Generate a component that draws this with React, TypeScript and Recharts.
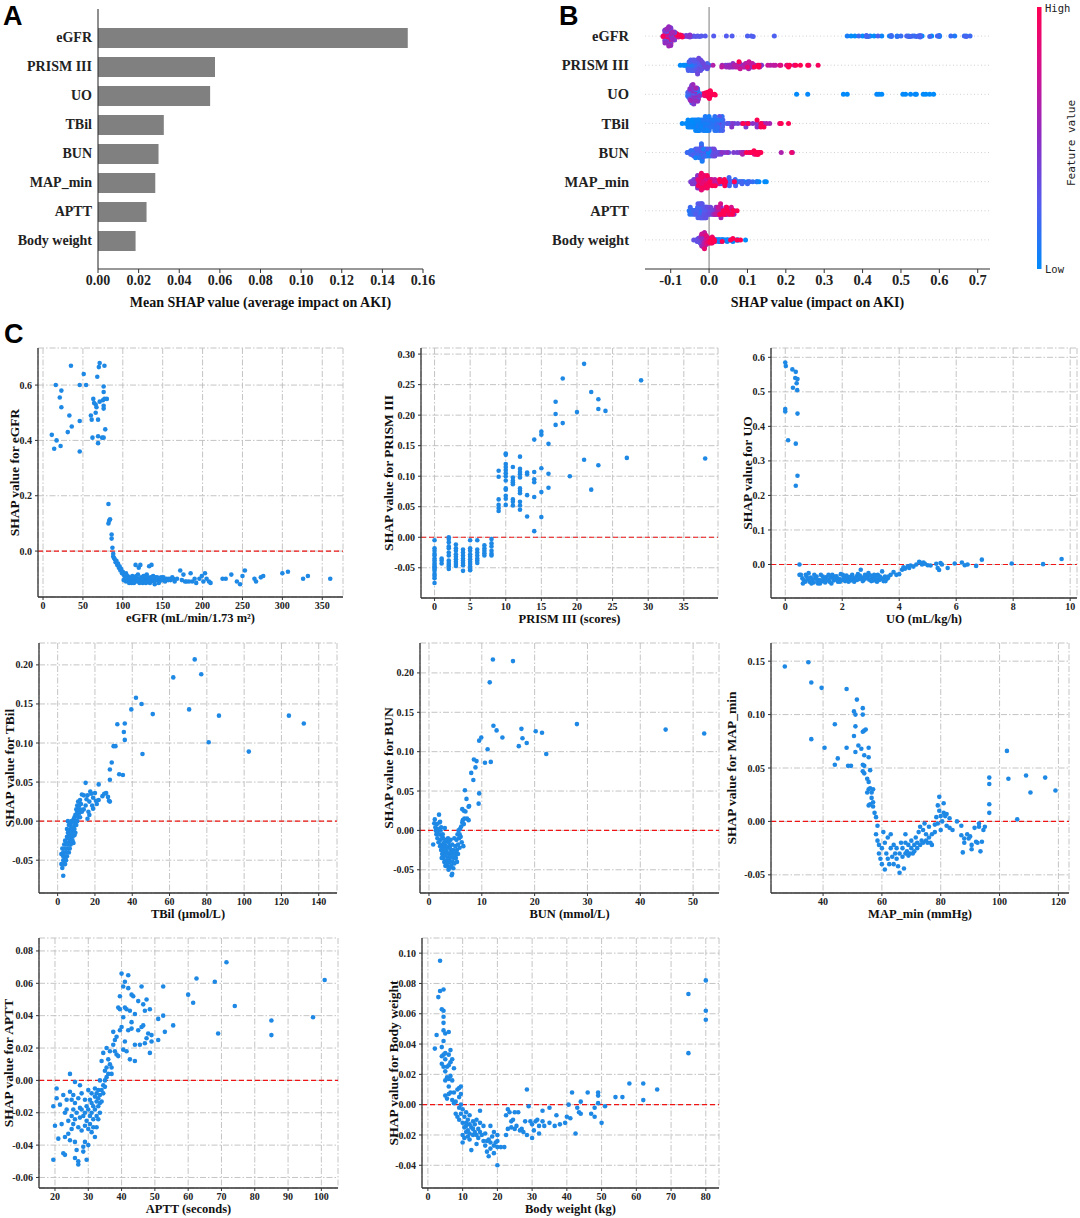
import React from "react";
import {
  BarChart,
  Bar,
  XAxis,
  YAxis,
  ScatterChart,
  Scatter,
  CartesianGrid,
  ReferenceLine,
} from "recharts";

// ---- data ----
const featureNames = ["eGFR", "PRISM III", "UO", "TBil", "BUN", "MAP_min", "APTT", "Body weight"];
const meanShap = [0.1525, 0.0576, 0.0552, 0.0324, 0.0298, 0.0282, 0.0239, 0.0185];
const barTicks = [0, 0.02, 0.04, 0.06, 0.08, 0.1, 0.12, 0.14, 0.16];
const beeTicks = [-0.1, 0, 0.1, 0.2, 0.3, 0.4, 0.5, 0.6, 0.7];

type Pt = [number, number]; // [feature value, SHAP value]

const egfrPoints: Pt[] = [
  [11, 0.42], [14, 0.37], [16, 0.6], [17, 0.4], [21, 0.555], [23, 0.58], [23, 0.52], [22, 0.38],
  [31, 0.43], [33, 0.49], [35, 0.67], [36, 0.45], [46, 0.6], [46, 0.47], [46, 0.36], [51, 0.64],
  [54, 0.6], [60, 0.49], [61, 0.475], [62, 0.41], [63, 0.55], [64, 0.535], [66, 0.53], [66, 0.5],
  [67, 0.52], [68, 0.63], [69, 0.475], [69, 0.415], [69, 0.39], [70, 0.665], [71, 0.68], [71, 0.54],
  [74, 0.41], [75, 0.545], [76, 0.41], [76, 0.575], [76, 0.595], [76, 0.525], [76, 0.515], [77, 0.67],
  [77, 0.55], [78, 0.44], [80, 0.55],
  [82, 0.17], [82, 0.1], [83, 0.11], [84, 0.115], [86, 0.06], [86, 0.045], [87, 0.012], [88, -0.01],
  [88, -0.02], [89, -0.025], [90, -0.03], [91, -0.04], [92, -0.035], [93, -0.05], [94, -0.045],
  [95, -0.06], [96, -0.055], [97, -0.07], [98, -0.065], [99, -0.08], [100, -0.075], [101, -0.085],
  [102, -0.09], [104, -0.08], [105, -0.095],
  [103, -0.1], [106, -0.09], [107, -0.105], [108, -0.095], [110, -0.11], [111, -0.1], [112, -0.09],
  [113, -0.105], [114, -0.115], [115, -0.095], [116, -0.05], [117, -0.1], [118, -0.11], [119, -0.085],
  [120, -0.06], [121, -0.1], [122, -0.05], [123, -0.095], [124, -0.105], [125, -0.115], [126, -0.09],
  [127, -0.1], [128, -0.11], [129, -0.095], [130, -0.085], [131, -0.105], [132, -0.1], [133, -0.055],
  [134, -0.115], [135, -0.095], [136, -0.05], [137, -0.105], [138, -0.09], [139, -0.1], [140, -0.12],
  [141, -0.095], [142, -0.105], [144, -0.1], [146, -0.11], [148, -0.095], [150, -0.1], [152, -0.105],
  [155, -0.1], [158, -0.1], [160, -0.105], [163, -0.1], [165, -0.11], [168, -0.1], [172, -0.07],
  [174, -0.105], [176, -0.085], [178, -0.11], [180, -0.11], [183, -0.11], [185, -0.08], [187, -0.11],
  [190, -0.1], [192, -0.115], [196, -0.1], [199, -0.09], [201, -0.11], [203, -0.08], [205, -0.1],
  [208, -0.11], [210, -0.115], [225, -0.1], [229, -0.1], [236, -0.085], [243, -0.11], [247, -0.12],
  [250, -0.09], [253, -0.07], [265, -0.1], [267, -0.11], [273, -0.095], [276, -0.09], [300, -0.08],
  [307, -0.075], [326, -0.1], [332, -0.09], [360, -0.1],
  [101, -0.105], [103, -0.09], [104, -0.11], [106, -0.1], [108, -0.115], [109, -0.1], [111, -0.115],
  [113, -0.095], [115, -0.11], [117, -0.09], [119, -0.105], [121, -0.115], [123, -0.11], [125, -0.1],
  [127, -0.09], [129, -0.115], [131, -0.095], [133, -0.1], [135, -0.11], [137, -0.095], [139, -0.11],
  [141, -0.105], [143, -0.095], [145, -0.115], [147, -0.1], [149, -0.105], [151, -0.095], [153, -0.11],
  [157, -0.105], [162, -0.095],
];

const prismPoints: Pt[] = [
  [0, -0.005], [0, -0.018], [0, -0.022], [0, -0.027], [0, -0.03], [0, -0.035], [0, -0.038], [0, -0.042],
  [0, -0.045], [0, -0.048], [0, -0.05], [0, -0.052], [0, -0.055], [0, -0.06], [0, -0.063], [0, -0.067],
  [0, -0.075],
  [1, -0.035], [1, -0.038], [1, -0.043],
  [2, 0.0], [2, -0.003], [2, -0.008], [2, -0.015], [2, -0.018], [2, -0.025], [2, -0.03], [2, -0.038],
  [2, -0.042], [2, -0.045], [2, -0.048], [2, -0.052],
  [3, -0.012], [3, -0.018], [3, -0.022], [3, -0.028], [3, -0.032], [3, -0.036], [3, -0.04], [3, -0.044],
  [3, -0.047],
  [4, -0.02], [4, -0.025], [4, -0.03], [4, -0.035], [4, -0.038], [4, -0.042], [4, -0.046], [4, -0.055],
  [5, -0.005], [5, -0.018], [5, -0.022], [5, -0.028], [5, -0.032], [5, -0.036], [5, -0.04], [5, -0.044],
  [5, -0.048], [5, -0.052], [5, -0.054],
  [6, -0.005], [6, -0.02], [6, -0.025], [6, -0.03], [6, -0.035], [6, -0.038], [6, -0.042],
  [7, -0.013], [7, -0.018], [7, -0.022], [7, -0.026], [7, -0.03],
  [8, -0.003], [8, -0.01], [8, -0.015], [8, -0.022], [8, -0.027], [8, -0.03],
  [9, 0.109], [9, 0.099], [9, 0.062], [9, 0.053], [9, 0.048], [9, 0.043],
  [10, 0.137], [10, 0.135], [10, 0.12], [10, 0.115], [10, 0.11], [10, 0.105], [10, 0.1], [10, 0.093],
  [10, 0.08], [10, 0.078], [10, 0.068], [10, 0.063], [10, 0.053],
  [11, 0.115], [11, 0.098], [11, 0.093], [11, 0.09], [11, 0.087], [11, 0.062], [11, 0.058], [11, 0.052],
  [12, 0.132], [12, 0.112], [12, 0.107], [12, 0.103], [12, 0.098], [12, 0.08], [12, 0.076], [12, 0.072],
  [12, 0.058], [12, 0.052], [12, 0.045],
  [13, 0.106], [13, 0.103], [13, 0.069], [13, 0.034],
  [14, 0.16], [14, 0.107], [14, 0.095], [14, 0.09], [14, 0.066], [14, 0.01],
  [15, 0.173], [15, 0.168], [15, 0.113], [15, 0.074], [15, 0.033],
  [16, 0.153], [16, 0.104], [16, 0.081],
  [17, 0.222], [17, 0.202], [17, 0.184], [18, 0.26], [18, 0.187], [19, 0.1], [20, 0.205],
  [21, 0.284], [21, 0.127], [22, 0.238], [22, 0.078], [23, 0.226], [23, 0.21], [23, 0.118],
  [24, 0.207], [27, 0.13], [29, 0.257], [38, 0.129],
];

const uoPoints: Pt[] = [
  [0.0, 0.585], [0.02, 0.575], [0.25, 0.565], [0.37, 0.558], [0.35, 0.54], [0.43, 0.537], [0.4, 0.525],
  [0.27, 0.512], [0.42, 0.505], [0.0, 0.45], [0.0, 0.443], [0.43, 0.437], [0.1, 0.36], [0.37, 0.35],
  [0.43, 0.257], [0.37, 0.228], [0.5, 0.0], [0.5, -0.03],
  [0.55, -0.03], [0.6, -0.04], [0.65, -0.045], [0.7, -0.05], [0.75, -0.035], [0.8, -0.042], [0.85, -0.05],
  [0.9, -0.038], [0.95, -0.046], [1.0, -0.052], [1.05, -0.04], [1.1, -0.035], [1.15, -0.055], [1.2, -0.045],
  [1.25, -0.03], [1.3, -0.048], [1.35, -0.04], [1.4, -0.052], [1.45, -0.036], [1.5, -0.044], [1.55, -0.05],
  [1.6, -0.038], [1.65, -0.03], [1.7, -0.046], [1.75, -0.04], [1.8, -0.034], [1.85, -0.05], [1.9, -0.042],
  [1.95, -0.028], [2.0, -0.045], [2.05, -0.038], [2.1, -0.048], [2.15, -0.032], [2.2, -0.042], [2.25, -0.036],
  [2.3, -0.046], [2.35, -0.03], [2.4, -0.04], [2.45, -0.044], [2.5, -0.035], [2.55, -0.028], [2.6, -0.042],
  [2.65, -0.015], [2.7, -0.038], [2.75, -0.045], [2.8, -0.03], [2.85, -0.04], [2.9, -0.035], [2.95, -0.044],
  [3.0, -0.032], [3.05, -0.04], [3.1, -0.046], [3.15, -0.036], [3.2, -0.042], [3.25, -0.03], [3.3, -0.045],
  [3.35, -0.038], [3.4, -0.02], [3.45, -0.048], [3.5, -0.035], [3.55, -0.042], [3.6, -0.04], [3.7, -0.03],
  [3.8, -0.022], [3.9, -0.03], [4.0, -0.028], [4.1, -0.015], [4.15, -0.008], [4.2, -0.012], [4.3, -0.005],
  [4.35, -0.01], [4.4, -0.003], [4.5, -0.006], [4.6, 0.0], [4.7, 0.008], [4.75, 0.005], [4.8, 0.0],
  [4.85, 0.006], [4.9, 0.002], [5.0, -0.002], [5.1, -0.003], [5.3, 0.002], [5.35, -0.01], [5.4, -0.016],
  [5.45, 0.004], [5.5, 0.0], [5.7, -0.01], [5.95, 0.003], [6.2, 0.006], [6.3, -0.002], [6.4, 0.0],
  [6.7, -0.004], [6.9, 0.014], [7.95, 0.003], [9.05, 0.001], [9.7, 0.016],
  [0.62, -0.055], [0.72, -0.03], [0.82, -0.025], [0.92, -0.055], [1.02, -0.03], [1.12, -0.045], [1.22, -0.055],
  [1.32, -0.035], [1.42, -0.045], [1.52, -0.03], [1.62, -0.055], [1.72, -0.035], [1.82, -0.045], [1.92, -0.05],
  [2.02, -0.03], [2.12, -0.04], [2.22, -0.05], [2.32, -0.038], [2.42, -0.05], [2.52, -0.045], [2.62, -0.032],
  [2.72, -0.048], [2.82, -0.04], [2.92, -0.025], [3.02, -0.048], [3.12, -0.03], [3.22, -0.05], [3.32, -0.035],
  [3.42, -0.042], [3.52, -0.048], [3.62, -0.035],
];

const tbilPoints: Pt[] = [
  [32, 0.124], [36, 0.125], [35.5, 0.114], [36, 0.104], [30, 0.096], [31, 0.096], [29, 0.075], [28, 0.066],
  [28, 0.053], [33, 0.06], [35, 0.059], [39.5, 0.143], [42, 0.158], [45, 0.15], [45.5, 0.086], [51, 0.137],
  [62, 0.184], [70.5, 0.143], [73.5, 0.207], [77, 0.188], [81, 0.101], [86.5, 0.135], [102.5, 0.089],
  [124, 0.135], [132, 0.125],
  [15, 0.049], [22, 0.047], [26, 0.036], [24, 0.032], [25, 0.035], [27, 0.031], [27.5, 0.026], [28, 0.025],
  [20, 0.036], [21, 0.022], [19, 0.03], [17.5, 0.038], [18, 0.035], [16, 0.033], [17, 0.025], [18.5, 0.02],
  [20.5, 0.026], [16.5, 0.012], [17, 0.008], [16, 0.003], [14, 0.033], [13, 0.034], [12, 0.027], [15, 0.02],
  [14, 0.015], [13, 0.012], [15.5, 0.028], [19, 0.016], [22, 0.027],
  [3, -0.07], [2, -0.055], [2.5, -0.06], [3, -0.05], [3.5, -0.045], [2, -0.042], [2.5, -0.035], [3, -0.04],
  [4, -0.055], [4, -0.048], [4.5, -0.04], [3.5, -0.03], [4, -0.025], [5, -0.045], [5, -0.035], [5, -0.02],
  [5.5, -0.03], [5.5, -0.015], [5.5, 0.0], [6, -0.028], [6, -0.022], [6, -0.012], [6.5, -0.035], [6.5, -0.025],
  [6.5, -0.018], [6.5, -0.005], [7, -0.03], [7, -0.02], [7, -0.01], [7, -0.003], [7.5, -0.025], [7.5, -0.015],
  [7.5, -0.008], [8, -0.02], [8, -0.012], [8, 0.0], [8.5, -0.028], [8.5, -0.01], [8.5, 0.002], [9, -0.018],
  [9, -0.005], [9, 0.005], [9.5, -0.015], [9.5, 0.0], [10, -0.005], [10, 0.008], [10, 0.015], [10.5, 0.0],
  [10.5, 0.012], [10.5, 0.02], [11, 0.005], [11, 0.015], [11, 0.025], [11.5, 0.01], [11.5, 0.02], [12, 0.005],
  [12, 0.015], [12.5, 0.022], [3.5, -0.055], [4.5, -0.05], [5, -0.01], [6, -0.04], [4, -0.035], [3, -0.045],
  [4.5, -0.028], [5.5, -0.022], [6, -0.005], [7, -0.015], [8, -0.025], [9, -0.01], [9.5, 0.008], [6.5, -0.03],
  [5, -0.028], [7.5, 0.0],
];

const bunPoints: Pt[] = [
  [0.8, -0.018], [1, 0.009], [1.1, 0.014], [1.2, 0.004], [1.3, 0.0], [1.4, -0.005], [1.5, 0.008], [1.6, -0.01],
  [1.7, 0.002], [1.8, -0.015], [1.9, 0.02], [2.0, 0.01], [2.0, -0.005], [2.1, -0.02], [2.1, 0.011], [2.2, -0.012],
  [2.3, -0.025], [2.3, 0.004], [2.4, -0.018], [2.5, -0.03], [2.5, -0.008], [2.6, -0.022], [2.7, -0.035],
  [2.7, -0.01], [2.8, -0.028], [2.9, -0.04], [2.9, -0.015], [3.0, -0.025], [3.0, 0.003], [3.1, -0.045],
  [3.1, -0.032], [3.2, -0.02], [3.3, -0.038], [3.3, -0.012], [3.4, -0.028], [3.5, -0.045], [3.5, -0.022],
  [3.6, -0.035], [3.7, -0.015], [3.7, -0.05], [3.8, -0.03], [3.9, -0.04], [3.9, -0.02], [4.0, -0.035],
  [4.1, -0.025], [4.2, -0.045], [4.3, -0.057], [4.3, -0.03], [4.4, -0.055], [4.4, -0.018], [4.5, -0.04],
  [4.6, -0.048], [4.6, -0.025], [4.7, -0.035], [4.8, -0.01], [4.9, -0.028], [5.0, -0.02], [5.1, -0.035],
  [5.2, -0.012], [5.3, -0.025], [5.4, -0.005], [5.5, -0.018], [5.6, 0.0], [5.7, -0.01], [5.8, -0.022],
  [5.9, 0.002], [6.0, -0.008], [6.1, 0.005], [6.2, -0.015], [6.3, 0.01], [6.4, 0.013], [6.5, -0.02],
  [6.6, 0.008], [6.7, 0.015], [6.3, 0.027], [6.6, 0.025], [6.9, 0.024], [6.8, 0.051], [7.1, 0.04],
  [7.2, 0.015], [7.5, 0.013], [7.5, 0.03], [7.6, 0.031], [8, 0.073], [8.4, 0.064], [8.5, 0.09], [8.8, 0.08],
  [9.0, 0.088], [9.4, 0.034], [9.5, 0.047], [9.5, 0.114], [9.9, 0.118], [10.6, 0.086], [11.1, 0.103],
  [11.5, 0.188], [11.7, 0.087], [12.1, 0.217], [12.2, 0.133], [12.8, 0.127], [13.9, 0.118], [15.9, 0.215],
  [17.0, 0.107], [17.5, 0.129], [17.7, 0.117], [18.5, 0.111], [20.2, 0.126], [21.4, 0.124], [22.2, 0.097],
  [28.0, 0.135], [44.8, 0.128], [52.1, 0.123],
  [1.5, -0.002], [2.2, 0.0], [2.6, -0.005], [2.8, -0.018], [3.2, -0.03], [3.4, -0.042], [3.6, -0.01],
  [3.8, -0.048], [4.0, -0.02], [4.2, -0.032], [4.5, -0.028], [4.8, -0.042], [5.0, -0.032], [5.3, -0.04],
  [5.5, -0.03], [5.8, -0.005], [3.0, -0.015], [2.4, -0.035], [4.1, -0.012], [3.3, -0.025],
];

const mapPoints: Pt[] = [
  [27, 0.145], [35, 0.149], [36, 0.13], [36, 0.077], [39.5, 0.125], [40.5, 0.069], [44, 0.091], [44, 0.053],
  [45, 0.059], [48, 0.124], [48, 0.069], [48.5, 0.052], [49.5, 0.052], [50.5, 0.103], [51, 0.1], [51, 0.089],
  [50.5, 0.08], [51, 0.065], [51.5, 0.114], [52, 0.071], [53, 0.068], [53.5, 0.106], [53.5, 0.1], [53.5, 0.084],
  [54, 0.085], [54.5, 0.086], [54, 0.062], [53.5, 0.053], [54, 0.052], [53.5, 0.047], [54, 0.045], [55.5, 0.069],
  [55.5, 0.06], [55, 0.04], [55.5, 0.037], [55.5, 0.03], [55, 0.027], [56, 0.048], [56, 0.031], [56.5, 0.027],
  [56.5, 0.022], [57, 0.03], [57, 0.018], [55.5, 0.015], [56, 0.016], [57, 0.014], [57.5, 0.008], [58, 0.004],
  [58.5, -0.004], [58, -0.012], [58.5, -0.018], [59, -0.022], [59, -0.03], [59.5, -0.035], [60, -0.025],
  [60, -0.04], [60.5, -0.01], [61, -0.02], [61, -0.045], [61.5, -0.03], [62, -0.035], [62, -0.015],
  [62.5, -0.04], [63, -0.025], [63, -0.012], [63.5, -0.033], [64, -0.04], [64, -0.022], [64.5, -0.03],
  [65, -0.035], [65, -0.025], [65.5, -0.042], [66, -0.03], [66, -0.048], [66.5, -0.02], [67, -0.033],
  [67, -0.025], [67.5, -0.044], [68, -0.03], [68, -0.012], [68, -0.02], [68.5, -0.028], [69, -0.032],
  [69, -0.022], [69.5, -0.03], [70, -0.025], [70, -0.018], [70.5, -0.03], [71, -0.022], [71, -0.028],
  [71.5, -0.015], [72, -0.025], [72, -0.02], [72.5, -0.01], [73, -0.022], [73, -0.005], [73.5, -0.018],
  [74, -0.02], [74, -0.008], [74.5, -0.002], [75, -0.018], [75, -0.012], [75.5, -0.02], [76, -0.015],
  [76, -0.005], [76.5, -0.02], [77, -0.022], [77, -0.012], [78, -0.003], [78, -0.01], [78.5, 0.004],
  [79, 0.015], [79.5, 0.023], [79.5, 0.01], [79, -0.002], [80, 0.005], [80, -0.008], [80.5, 0.0],
  [81, 0.017], [81, 0.008], [81.5, 0.005], [82, 0.007], [82, -0.004], [83, 0.003], [83, -0.006],
  [84, -0.008], [85.5, 0.0], [87, -0.004], [87, -0.013], [87.5, -0.029], [88, -0.016], [88, -0.02],
  [89, -0.012], [89.5, -0.016], [90, -0.014], [90.5, -0.022], [90.5, -0.026], [91.5, -0.006], [92, -0.019],
  [92.5, -0.02], [93, -0.002], [93, -0.005], [93.5, -0.028], [94, -0.019], [94.5, -0.008], [95, -0.005],
  [96.5, 0.035], [96.5, 0.041], [96.5, 0.016], [96.5, 0.008], [102.5, 0.066], [103, 0.04], [106, 0.002],
  [109, 0.043], [110.5, 0.027], [115.5, 0.041], [119, 0.029],
];

const apttPoints: Pt[] = [
  [19.5, -0.016], [19.5, -0.049], [20, -0.028], [20.5, -0.005], [20.5, -0.011], [21, -0.036], [21.5, -0.015],
  [22, -0.027], [22.5, -0.009], [22.5, -0.045], [23, -0.02], [23, -0.035], [23, -0.046], [23.5, -0.012],
  [23.5, -0.018], [24, -0.025], [24, -0.033], [24.5, 0.004], [24.5, -0.007], [24.5, -0.037], [25, -0.012],
  [25, -0.022], [25, -0.03], [25.5, -0.018], [25.5, -0.027], [25.5, -0.009], [26, -0.001], [26, -0.014],
  [26, -0.024], [26, -0.038], [26, -0.048], [26.5, -0.02], [26.5, -0.043], [27, -0.011], [27, -0.029],
  [27, -0.05], [27, -0.052], [27.5, -0.003], [27.5, -0.017], [27.5, -0.023], [28, -0.008], [28, -0.018],
  [28, -0.031], [28.5, -0.022], [28.5, -0.041], [28.5, -0.044], [29, -0.012], [29, -0.02], [29, -0.028],
  [29, -0.038], [29.5, -0.016], [29.5, -0.025], [29.5, -0.049], [30, -0.006], [30, -0.018], [30, -0.03],
  [30, -0.04], [30.5, -0.012], [30.5, -0.022], [30.5, -0.027], [31, -0.008], [31, -0.014], [31, -0.02],
  [31, -0.032], [31.5, -0.016], [31.5, -0.024], [31.5, -0.029], [32, -0.005], [32, -0.01], [32, -0.018],
  [32, -0.035], [32.5, -0.008], [32.5, -0.013], [32.5, -0.022], [32.5, -0.029], [33, -0.006], [33, -0.011],
  [33, -0.016], [33, -0.024], [33.5, 0.0], [33.5, -0.009], [33.5, -0.014], [33.5, -0.02], [34, 0.012],
  [34, -0.006], [34, -0.013], [34.5, 0.017], [34.5, -0.003], [34.5, -0.008], [35, 0.006], [35, 0.0],
  [35, -0.004], [35.5, 0.02], [35.5, 0.008], [35.5, 0.002], [36, 0.013], [36, 0.004], [36.5, 0.018],
  [36.5, 0.01], [37, 0.008], [37, 0.004], [37.5, 0.022], [37.5, 0.03], [38, 0.018], [38, 0.025],
  [38.5, 0.016], [38.5, 0.027], [39, 0.045], [39, 0.015], [39.5, 0.052], [39.5, 0.031], [39.5, 0.044],
  [40, 0.066], [40, 0.033], [40.5, 0.058], [40.5, 0.039], [40.5, 0.019], [41, 0.061], [41, 0.045],
  [41, 0.024], [41.5, 0.018], [41.5, 0.044], [42, 0.057], [42, 0.065], [42, 0.031], [42.5, 0.013],
  [42.5, 0.043], [43, 0.053], [43, 0.032], [43, 0.036], [43.5, 0.052], [44, 0.041], [44, 0.022], [44, 0.012],
  [45, 0.049], [45, 0.031], [45.5, 0.022], [46, 0.058], [46, 0.033], [46.5, 0.047], [46.5, 0.034], [47, 0.043],
  [47, 0.023], [47.5, 0.05], [47.5, 0.026], [48, 0.029], [48.5, 0.044], [48.5, 0.017], [49, 0.024],
  [49, 0.028], [51, 0.038], [51, 0.025], [52.5, 0.058], [52.5, 0.04], [53, 0.03], [55.5, 0.034], [60, 0.053],
  [61.5, 0.048], [62.5, 0.063], [68, 0.061], [69, 0.029], [71.5, 0.073], [74, 0.046], [85, 0.028],
  [85, 0.037], [97.5, 0.039], [101, 0.062],
];

const weightPoints: Pt[] = [
  [2, 0.037], [2.5, 0.046], [3, 0.071], [3.5, 0.095], [3.5, 0.075], [4, 0.063], [4, 0.038], [4, 0.032],
  [4, 0.027], [4.5, 0.076], [4.5, 0.062], [4.5, 0.058], [4.5, 0.054], [4.5, 0.049], [4.5, 0.042], [4.5, 0.033],
  [4.5, 0.025], [5, 0.047], [5, 0.034], [5, 0.03], [5, 0.022], [5, 0.016], [5, 0.006], [5.5, 0.025],
  [5.5, 0.018], [5.5, 0.004], [6, 0.048], [6, 0.033], [6, 0.026], [6, 0.017], [6, 0.012], [6, 0.007],
  [6.5, 0.036], [6.5, 0.028], [6.5, 0.019], [6.5, 0.008], [7, 0.03], [7, 0.016], [7, 0.003], [7.5, 0.024],
  [7.5, 0.008], [7.5, 0.001], [8, -0.006], [8, 0.002], [8.5, 0.01], [8.5, -0.008], [9, 0.011], [9, 0.005],
  [9, -0.002], [9, -0.01], [9.5, 0.012], [9.5, 0.007], [9.5, 0.0], [9.5, -0.006], [10, -0.003], [10, -0.012],
  [10, -0.02], [10, -0.025], [10.5, -0.008], [10.5, -0.015], [10.5, -0.022], [11, -0.005], [11, -0.012],
  [11, -0.018], [11, -0.014], [11.5, -0.01], [11.5, -0.017], [11.5, -0.021], [12, -0.007], [12, -0.013],
  [12, -0.019], [12, -0.023], [12.5, -0.015], [12.5, -0.03], [13, -0.011], [13, -0.016], [13, -0.02],
  [13.5, -0.013], [13.5, -0.018], [14, -0.01], [14, -0.02], [14, -0.026], [14.5, -0.016], [14.5, -0.022],
  [15, -0.004], [15, -0.012], [15, -0.018], [15.5, -0.02], [16, -0.014], [16, -0.024], [16.5, -0.019],
  [16.5, -0.027], [17, -0.024], [17, -0.031], [17.5, -0.034], [17.5, -0.023], [18, -0.014], [18, -0.025],
  [18, -0.029], [18.5, -0.021], [19, -0.018], [19, -0.027], [19, -0.032], [19.5, -0.025], [20, -0.02],
  [20, -0.024], [20, -0.028], [20, -0.04], [21, -0.028], [22, -0.028], [22.5, -0.007], [22.5, -0.02],
  [23, -0.003], [23, -0.016], [23.5, -0.005], [24, -0.011], [24, -0.015], [24.5, -0.01], [25, -0.005],
  [25, -0.016], [25.5, -0.014], [26, -0.005], [26.5, -0.017], [27, -0.016], [27.5, -0.018], [28, -0.011],
  [28.5, 0.01], [28.5, -0.02], [29, -0.001], [29.5, -0.011], [30, -0.013], [30, -0.022], [30.5, -0.017],
  [31, -0.011], [31.5, -0.01], [32, -0.014], [32, -0.019], [33, -0.004], [33, -0.011], [33.5, -0.014],
  [35, -0.002], [35, -0.012], [36.5, -0.014], [37, -0.007], [38, -0.013], [39.5, -0.012], [40, -0.008],
  [40.5, 0.0], [41, -0.009], [41.5, 0.008], [42.5, -0.019], [43, -0.002], [43.5, -0.005], [44, 0.002],
  [44, -0.006], [46, 0.008], [47, -0.006], [48, -0.008], [48, -0.002], [49, 0.008], [49, 0.006], [49, 0.001],
  [50, -0.012], [51, -0.001], [54, 0.005], [56, 0.005], [58, 0.014], [62, 0.014], [62, 0.003], [66, 0.01],
  [75, 0.073], [75, 0.034], [80, 0.082], [80, 0.062], [80, 0.056],
];

const featurePoints: Pt[][] = [
  egfrPoints, prismPoints, uoPoints, tbilPoints, bunPoints, mapPoints, apttPoints, weightPoints,
];

// tick labels of the dependence plots
const egfrXTicks = [0, 50, 100, 150, 200, 250, 300, 350];
const egfrYTicks = [0, 0.2, 0.4, 0.6];
const prismXTicks = [0, 5, 10, 15, 20, 25, 30, 35];
const prismYTicks = [-0.05, 0, 0.05, 0.1, 0.15, 0.2, 0.25, 0.3];
const uoXTicks = [0, 2, 4, 6, 8, 10];
const uoYTicks = [0, 0.1, 0.2, 0.3, 0.4, 0.5, 0.6];
const tbilXTicks = [0, 20, 40, 60, 80, 100, 120, 140];
const tbilYTicks = [-0.05, 0, 0.05, 0.1, 0.15, 0.2];
const bunXTicks = [0, 10, 20, 30, 40, 50];
const bunYTicks = [-0.05, 0, 0.05, 0.1, 0.15, 0.2];
const mapXTicks = [40, 60, 80, 100, 120];
const mapYTicks = [-0.05, 0, 0.05, 0.1, 0.15];
const apttXTicks = [20, 30, 40, 50, 60, 70, 80, 90, 100];
const apttYTicks = [-0.06, -0.04, -0.02, 0, 0.02, 0.04, 0.06, 0.08];
const weightXTicks = [0, 10, 20, 30, 40, 50, 60, 70, 80];
const weightYTicks = [-0.04, -0.02, 0, 0.02, 0.04, 0.06, 0.08, 0.1];

// ---- styling ----
const SERIF = "'Liberation Serif', 'Times New Roman', serif";
const SANS = "'Liberation Sans', Arial, sans-serif";
const MONO = "'DejaVu Sans Mono', monospace";
const DOT_BLUE = "#1E88E5";
const AXIS = "#333333";

const cmapStops: [number, number[]][] = [
  [0, [0, 139, 251]],
  [0.25, [84, 92, 238]],
  [0.5, [142, 46, 196]],
  [0.75, [208, 18, 146]],
  [1, [255, 0, 82]],
];

const cmap = (t: number) => {
  const v = Math.max(0, Math.min(1, t));
  for (let i = 1; i < cmapStops.length; i++) {
    const [p1, c1] = cmapStops[i];
    const [p0, c0] = cmapStops[i - 1];
    if (v <= p1) {
      const f = (v - p0) / (p1 - p0);
      const c = c0.map((a, k) => Math.round(a + (c1[k] - a) * f));
      return `rgb(${c[0]},${c[1]},${c[2]})`;
    }
  }
  return "rgb(255,0,82)";
};

// beeswarm layout like shap.summary_plot: bin the SHAP values and stack within bins
const swarmRow = (points: Pt[], row: number) => {
  const n = points.length;
  const shaps = points.map((p) => p[1]);
  const lo = Math.min(...shaps);
  const hi = Math.max(...shaps);
  const quant = shaps.map((s) => Math.round((100 * (s - lo)) / (hi - lo + 1e-8)));
  const order = shaps.map((_, i) => i).sort((a, b) => quant[a] - quant[b] || a - b);
  const ys = new Array(n).fill(0);
  let layer = 0;
  let last = -1;
  for (const i of order) {
    if (quant[i] !== last) layer = 0;
    ys[i] = Math.ceil(layer / 2) * ((layer % 2) * 2 - 1);
    layer++;
    last = quant[i];
  }
  const scale = (0.9 * 0.4) / Math.max(...ys.map((v) => v + 1));
  const fv = points.map((p) => p[0]).sort((a, b) => a - b);
  const vmin = fv[Math.floor(0.05 * (n - 1))];
  const vmax = fv[Math.floor(0.95 * (n - 1))];
  return points.map((p, i) => ({
    x: p[1],
    y: row + ys[i] * scale,
    c: cmap((p[0] - vmin) / (vmax - vmin || 1)),
  }));
};

const beeData = featurePoints.flatMap((pts, row) => swarmRow(pts, row));
const barData = featureNames.map((name, i) => ({ name, value: meanShap[i] }));

const xTitle = (text: string, size: number, dy: number) => ({
  content: (p: any) => {
    const vb = p.viewBox || { x: 0, y: 0, width: 0 };
    return (
      <text x={vb.x + vb.width / 2} y={vb.y + dy} textAnchor="middle" fontFamily={SERIF}
        fontWeight={700} fontSize={size} fill="#111">
        {text}
      </text>
    );
  },
});

const yTitle = (text: string, size: number, dist: number) => ({
  content: (p: any) => {
    const vb = p.viewBox || { x: 0, y: 0, width: 0, height: 0 };
    const cx = vb.x + vb.width - dist;
    const cy = vb.y + vb.height / 2;
    return (
      <text x={cx} y={cy} transform={`rotate(-90, ${cx}, ${cy})`} textAnchor="middle"
        dominantBaseline="central" fontFamily={SERIF} fontWeight={700} fontSize={size} fill="#111">
        {text}
      </text>
    );
  },
});

interface DepSpec {
  points: Pt[];
  L: number;
  T: number;
  R: number;
  B: number;
  xDomain: [number, number];
  yDomain: [number, number];
  xTicks: number[];
  yTicks: number[];
  digits: number;
  xLabel: string;
  yLabel: string;
  yDist: number;
}

const depSpecs: DepSpec[] = [
  { points: egfrPoints, L: 38, T: 348, R: 343, B: 597, xDomain: [-6.3, 376], yDomain: [-0.166, 0.734],
    xTicks: egfrXTicks, yTicks: egfrYTicks, digits: 1, xLabel: "eGFR (mL/min/1.73 m²)",
    yLabel: "SHAP value for eGFR", yDist: 24 },
  { points: prismPoints, L: 421, T: 348, R: 718, B: 598, xDomain: [-1.9, 39.8], yDomain: [-0.0995, 0.31],
    xTicks: prismXTicks, yTicks: prismYTicks, digits: 2, xLabel: "PRISM III (scores)",
    yLabel: "SHAP value for PRISM III", yDist: 33 },
  { points: uoPoints, L: 771, T: 348, R: 1077, B: 598, xDomain: [-0.5, 10.24], yDomain: [-0.097, 0.627],
    xTicks: uoXTicks, yTicks: uoYTicks, digits: 1, xLabel: "UO (mL/kg/h)",
    yLabel: "SHAP value for UO", yDist: 24 },
  { points: tbilPoints, L: 39, T: 643, R: 337, B: 893, xDomain: [-10, 149.8], yDomain: [-0.092, 0.228],
    xTicks: tbilXTicks, yTicks: tbilYTicks, digits: 2, xLabel: "TBil (µmol/L)",
    yLabel: "SHAP value for TBil", yDist: 30 },
  { points: bunPoints, L: 420, T: 643, R: 719, B: 893, xDomain: [-1.7, 54.9], yDomain: [-0.0795, 0.238],
    xTicks: bunXTicks, yTicks: bunYTicks, digits: 2, xLabel: "BUN (mmol/L)",
    yLabel: "SHAP value for BUN", yDist: 32 },
  { points: mapPoints, L: 771, T: 643, R: 1069, B: 893, xDomain: [22.3, 123.6], yDomain: [-0.067, 0.167],
    xTicks: mapXTicks, yTicks: mapYTicks, digits: 2, xLabel: "MAP_min (mmHg)",
    yLabel: "SHAP value for MAP_min", yDist: 40 },
  { points: apttPoints, L: 39, T: 938, R: 338, B: 1188, xDomain: [15.2, 105], yDomain: [-0.0665, 0.088],
    xTicks: apttXTicks, yTicks: apttYTicks, digits: 2, xLabel: "APTT (seconds)",
    yLabel: "SHAP value for APTT", yDist: 31 },
  { points: weightPoints, L: 422, T: 938, R: 719, B: 1188, xDomain: [-1.7, 83.8], yDomain: [-0.055, 0.11],
    xTicks: weightXTicks, yTicks: weightYTicks, digits: 2, xLabel: "Body weight (kg)",
    yLabel: "SHAP value for Body weight", yDist: 29 },
];

const tickStyle = (size: number) => ({ fontSize: size, fontFamily: SERIF, fontWeight: 700, fill: "#222" });

const DepPlot = ({ s }: { s: DepSpec }) => {
  const axisW = 54;
  const topM = 10;
  const axisH = 30;
  const rightM = 2;
  const data = s.points.map(([x, y]) => ({ x, y }));
  return (
    <div style={{ position: "absolute", left: s.L - axisW, top: s.T - topM }}>
      <ScatterChart width={s.R - s.L + axisW + rightM} height={s.B - s.T + topM + axisH}
        margin={{ top: topM, right: rightM, bottom: 0, left: 0 }}>
        <CartesianGrid stroke="#bdbdbd" strokeDasharray="6 2 1.5 2" strokeWidth={0.9} />
        <XAxis type="number" dataKey="x" domain={s.xDomain} ticks={s.xTicks} allowDataOverflow
          interval={0} height={axisH} tickSize={3} tickMargin={2} tick={tickStyle(10)}
          tickLine={{ stroke: AXIS }} axisLine={{ stroke: AXIS, strokeWidth: 1.3 }}
          label={xTitle(s.xLabel, 12.5, 25)} />
        <YAxis type="number" dataKey="y" domain={s.yDomain} ticks={s.yTicks} allowDataOverflow
          interval={0} width={axisW} tickSize={3} tickMargin={3} tick={tickStyle(10)}
          tickFormatter={(v: number) => v.toFixed(s.digits)}
          tickLine={{ stroke: AXIS }} axisLine={{ stroke: AXIS, strokeWidth: 1.3 }}
          label={yTitle(s.yLabel, 13.5, s.yDist)} />
        <ReferenceLine y={0} stroke="#f01414" strokeDasharray="5 3" strokeWidth={1.2} />
        <Scatter data={data} isAnimationActive={false}
          shape={(p: any) => <circle cx={p.cx} cy={p.cy} r={2.3} fill={DOT_BLUE} />} />
      </ScatterChart>
    </div>
  );
};

const BarPanel = () => (
  <div style={{ position: "absolute", left: 0, top: 0 }}>
    <BarChart width={440} height={310} data={barData} layout="vertical"
      margin={{ top: 9, right: 17, bottom: 0, left: 0 }}>
      <XAxis type="number" domain={[0, 0.16]} ticks={barTicks} allowDataOverflow interval={0}
        height={41} tickSize={4} tickMargin={2} tick={tickStyle(14)}
        tickFormatter={(v: number) => v.toFixed(2)}
        tickLine={{ stroke: AXIS }} axisLine={{ stroke: AXIS, strokeWidth: 1.1 }}
        label={xTitle("Mean SHAP value (average impact on AKI)", 14, 38)} />
      <YAxis type="category" dataKey="name" width={98} tickLine={false} tickSize={0} tickMargin={6}
        padding={{ top: 14, bottom: 14 }} interval={0} tick={tickStyle(14)}
        axisLine={{ stroke: AXIS, strokeWidth: 1.1 }} />
      <Bar dataKey="value" fill="#808080" barSize={20} isAnimationActive={false} />
    </BarChart>
  </div>
);

const BeePanel = () => (
  <div style={{ position: "absolute", left: 530, top: 0 }}>
    <ScatterChart width={470} height={310} margin={{ top: 7, right: 10, bottom: 0, left: 0 }}>
      <XAxis type="number" dataKey="x" domain={[-0.167, 0.732]} ticks={beeTicks} allowDataOverflow
        interval={0} height={41} tickSize={4} tickMargin={2} tick={tickStyle(14.5)}
        tickFormatter={(v: number) => v.toFixed(1)}
        tickLine={{ stroke: AXIS }} axisLine={{ stroke: AXIS, strokeWidth: 1.1 }}
        label={xTitle("SHAP value (impact on AKI)", 14, 38)} />
      <YAxis type="number" dataKey="y" domain={[-1, 8]} reversed allowDataOverflow
        ticks={featureNames.map((_, i) => i)} interval={0} width={115}
        tickFormatter={(i: number) => featureNames[i] ?? ""} axisLine={false} tickLine={false}
        tickSize={0} tickMargin={16} tick={tickStyle(14.5)} />
      {featureNames.map((_, i) => (
        <ReferenceLine key={i} y={i} stroke="#cccccc" strokeDasharray="1 2.5" strokeWidth={0.9} />
      ))}
      <ReferenceLine x={0} stroke="#999999" strokeWidth={1.3} />
      <Scatter data={beeData} isAnimationActive={false}
        shape={(p: any) => <circle cx={p.cx} cy={p.cy} r={2.5} fill={p.payload?.c ?? p.c} />} />
    </ScatterChart>
  </div>
);

const Overlay = () => (
  <svg width={1080} height={1218} style={{ position: "absolute", left: 0, top: 0, pointerEvents: "none" }}>
    <defs>
      <linearGradient id="shapCmap" x1="0" y1="1" x2="0" y2="0">
        {cmapStops.map(([p, c]) => (
          <stop key={p} offset={p} stopColor={`rgb(${c[0]},${c[1]},${c[2]})`} />
        ))}
      </linearGradient>
    </defs>
    <text x={3} y={25} fontFamily={SANS} fontWeight={700} fontSize={27} fill="#000">A</text>
    <text x={559} y={25} fontFamily={SANS} fontWeight={700} fontSize={27} fill="#000">B</text>
    <text x={4} y={343} fontFamily={SANS} fontWeight={700} fontSize={27} fill="#000">C</text>
    <rect x={1037} y={7} width={4.5} height={262} fill="url(#shapCmap)" />
    <text x={1045} y={12} fontFamily={MONO} fontSize={10.5} fill="#222">High</text>
    <text x={1045} y={273} fontFamily={MONO} fontSize={10.5} fill="#222">Low</text>
    <text x={1071} y={143} transform="rotate(-90, 1071, 143)" textAnchor="middle"
      dominantBaseline="central" fontFamily={MONO} fontSize={11} fill="#222">
      Feature value
    </text>
  </svg>
);

export default function App() {
  return (
    <div style={{ position: "absolute", left: 0, top: 0, width: 1080, height: 1218, overflow: "hidden", background: "#fff" }}>
      <BarPanel />
      <BeePanel />
      {depSpecs.map((s) => (
        <DepPlot key={s.yLabel} s={s} />
      ))}
      <Overlay />
    </div>
  );
}
